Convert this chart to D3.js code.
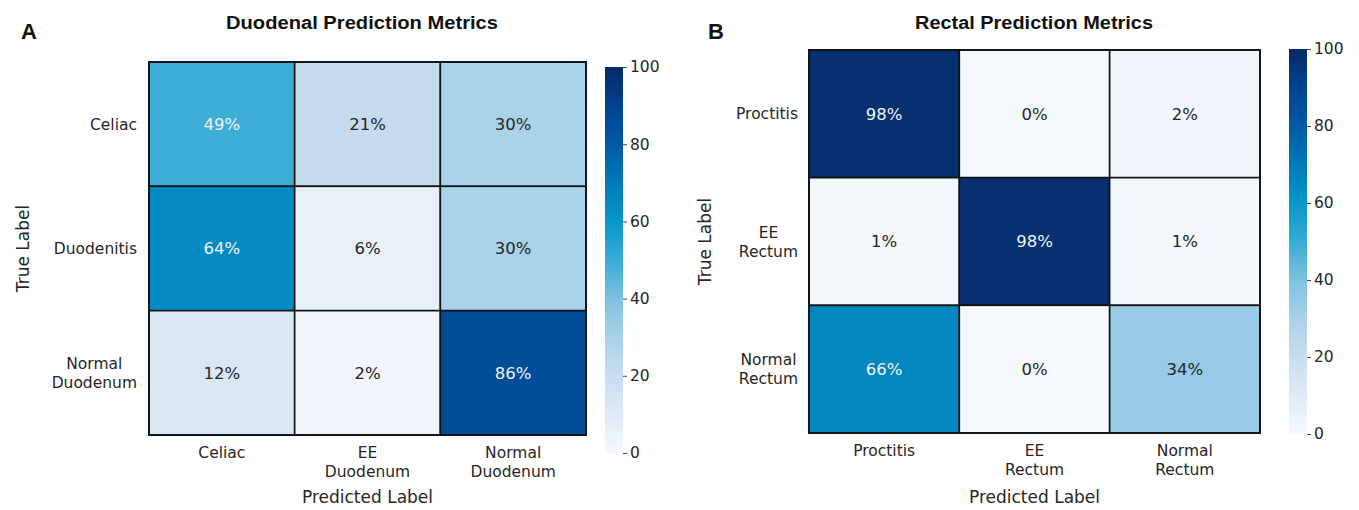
<!DOCTYPE html>
<html>
<head>
<meta charset="utf-8">
<script src="https://cdn.jsdelivr.net/npm/d3@7"></script>
<style>
  html, body { margin: 0; padding: 0; background: #fff; }
  svg { display: block; }
  .tick-label { font-family: "DejaVu Sans", sans-serif; font-size: 15.5px; fill: #262626; }
  .axis-title { font-family: "DejaVu Sans", sans-serif; font-size: 17px; fill: #262626; }
  .cell-label { font-family: "DejaVu Sans", sans-serif; font-size: 16.5px; }
  .panel-title { font-family: "Liberation Sans", Arial, sans-serif; font-weight: bold; font-size: 18px; fill: #111; }
  .panel-letter { font-family: "Liberation Sans", Arial, sans-serif; font-weight: bold; font-size: 22px; fill: #111; }
</style>
</head>
<body>
<svg id="chart" width="1359" height="510"></svg>
<script>
// ---- data ----
const duoTrueLabels = ["Celiac", "Duodenitis", "Normal\nDuodenum"];
const duoPredLabels = ["Celiac", "EE\nDuodenum", "Normal\nDuodenum"];
const duoValues = [
  [49, 21, 30],
  [64, 6, 30],
  [12, 2, 86]
];

const rectTrueLabels = ["Proctitis", "EE\nRectum", "Normal\nRectum"];
const rectPredLabels = ["Proctitis", "EE\nRectum", "Normal\nRectum"];
const rectValues = [
  [98, 0, 2],
  [1, 98, 1],
  [66, 0, 34]
];

const colorbarTicks = [0, 20, 40, 60, 80, 100];

// ---- colour map (blue sequential) ----
const colorStops = [0, 10, 20, 30, 40, 50, 60, 70, 80, 90, 100];
const colorRange = ["#f5f9fd", "#dfebf7", "#c8ddf0", "#aad2e8", "#7ec1e0", "#38acd6",
                    "#0897c9", "#0079b8", "#005aa6", "#00428f", "#062a66"];
const color = d3.scaleLinear().domain(colorStops).range(colorRange).interpolate(d3.interpolateRgb).clamp(true);

const svg = d3.select("#chart");

// gradient for colour bars (bottom = 0, top = 100)
const defs = svg.append("defs");
const grad = defs.append("linearGradient")
  .attr("id", "cbar-grad").attr("x1", 0).attr("y1", 1).attr("x2", 0).attr("y2", 0);
d3.range(0, 101, 2).forEach(v => {
  grad.append("stop").attr("offset", v / 100).attr("stop-color", color(v));
});

function multiline(textSel, str, lineHeight) {
  const lines = str.split("\n");
  lines.forEach((ln, i) => {
    textSel.append("tspan").attr("x", textSel.attr("x")).attr("dy", i === 0 ? 0 : lineHeight).text(ln);
  });
  return lines.length;
}

function panel(cfg) {
  const g = svg.append("g");
  const { x0, x1, y0, y1 } = cfg.box;

  const x = d3.scaleBand().domain(d3.range(cfg.pred.length)).range([x0, x1]);
  const y = d3.scaleBand().domain(d3.range(cfg.truth.length)).range([y0, y1]);

  // cells
  const cells = [];
  cfg.values.forEach((row, r) => row.forEach((v, c) => cells.push({ r, c, v })));

  g.selectAll("rect.cell").data(cells).join("rect")
    .attr("class", "cell")
    .attr("x", d => x(d.c)).attr("y", d => y(d.r))
    .attr("width", x.bandwidth()).attr("height", y.bandwidth())
    .attr("fill", d => color(d.v))
    .attr("stroke", "#111").attr("stroke-width", 1.6);

  g.selectAll("text.cell-label").data(cells).join("text")
    .attr("class", "cell-label")
    .attr("x", d => x(d.c) + x.bandwidth() / 2)
    .attr("y", d => y(d.r) + y.bandwidth() / 2)
    .attr("dy", "0.36em")
    .attr("text-anchor", "middle")
    .attr("fill", d => d.v > 45 ? "#f2f4f6" : "#262626")
    .text(d => d.v + "%");

  // outer frame
  g.append("rect").attr("x", x0).attr("y", y0).attr("width", x1 - x0).attr("height", y1 - y0)
    .attr("fill", "none").attr("stroke", "#111").attr("stroke-width", 1.8);

  // x tick labels (multi-line, centred)
  const lineH = 19;
  cfg.pred.forEach((lab, i) => {
    const t = g.append("text").attr("class", "tick-label")
      .attr("x", x(i) + x.bandwidth() / 2).attr("y", y1 + 22.5)
      .attr("text-anchor", "middle");
    multiline(t, lab, lineH);
  });

  // y tick labels (multi-line block, right edge at pad, lines centred within block)
  cfg.truth.forEach((lab, i) => {
    const lines = lab.split("\n");
    const cy = y(i) + y.bandwidth() / 2;
    const t = g.append("text").attr("class", "tick-label").attr("text-anchor", "middle");
    const startY = cy - (lines.length - 1) * lineH / 2 + 5.5;
    const spans = lines.map((ln, k) => t.append("tspan").attr("y", startY + k * lineH).text(ln));
    const maxW = d3.max(spans, s => s.node().getComputedTextLength());
    spans.forEach(s => s.attr("x", x0 - cfg.yPad - maxW / 2));
  });

  // axis titles
  g.append("text").attr("class", "axis-title")
    .attr("x", (x0 + x1) / 2).attr("y", y1 + cfg.xTitleOffset)
    .attr("text-anchor", "middle").text("Predicted Label");
  g.append("text").attr("class", "axis-title")
    .attr("transform", `translate(${cfg.yTitleX},${(y0 + y1) / 2}) rotate(-90)`)
    .attr("text-anchor", "middle").attr("dy", "0.35em").text("True Label");

  // panel title and letter
  g.append("text").attr("class", "panel-title")
    .attr("x", cfg.titleX).attr("y", 29).attr("text-anchor", "middle")
    .attr("textLength", cfg.titleWidth).attr("lengthAdjust", "spacingAndGlyphs")
    .text(cfg.title);
  g.append("text").attr("class", "panel-letter")
    .attr("x", cfg.letterX).attr("y", 39).text(cfg.letter);

  // colour bar
  const cb = cfg.cbar;
  const cy = d3.scaleLinear().domain([0, 100]).range([cb.y1, cb.y0]);
  g.append("rect").attr("x", cb.x).attr("y", cb.y0).attr("width", cb.w).attr("height", cb.y1 - cb.y0)
    .attr("fill", "url(#cbar-grad)");
  const axis = d3.axisRight(cy).tickValues(colorbarTicks).tickSize(4).tickPadding(3);
  const ag = g.append("g").attr("transform", `translate(${cb.x + cb.w},0)`).call(axis);
  ag.select(".domain").remove();
  ag.selectAll(".tick line").attr("stroke", "#444").attr("stroke-width", 1);
  ag.selectAll(".tick text").attr("class", "tick-label").attr("fill", "#262626")
    .style("font-size", "15.5px").style("font-family", "DejaVu Sans, sans-serif");
}

panel({
  truth: duoTrueLabels, pred: duoPredLabels, values: duoValues,
  box: { x0: 149, x1: 586, y0: 62, y1: 435 },
  yPad: 12, xTitleOffset: 68, yTitleX: 23,
  title: "Duodenal Prediction Metrics", titleX: 362, titleWidth: 272,
  letter: "A", letterX: 21,
  cbar: { x: 605, w: 18, y0: 67, y1: 453 }
});

panel({
  truth: rectTrueLabels, pred: rectPredLabels, values: rectValues,
  box: { x0: 809, x1: 1260, y0: 50, y1: 433 },
  yPad: 11, xTitleOffset: 70, yTitleX: 705,
  title: "Rectal Prediction Metrics", titleX: 1034, titleWidth: 238,
  letter: "B", letterX: 708,
  cbar: { x: 1289, w: 18, y0: 49, y1: 434 }
});
</script>
</body>
</html>
